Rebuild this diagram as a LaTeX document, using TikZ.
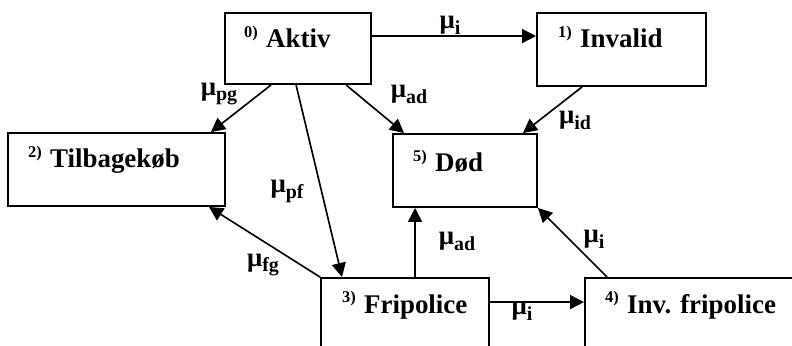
\documentclass[tikz,border=0pt]{standalone}
\usepackage{fontspec}
\setmainfont{Liberation Serif}
\usetikzlibrary{arrows.meta,fit,calc}

\newcommand{\rate}[1]{μ\raisebox{-0.22em}{\fontsize{17}{17}\selectfont\bfseries #1}}
\newcommand{\statename}[2]{\raisebox{9pt}{\fontsize{14}{14}\selectfont\bfseries #1)}\hspace{7pt}#2}

\tikzset{
  statebox/.style={draw, line width=1.6pt, inner sep=0pt, fit={#1}},
  statetext/.style={anchor=base west, inner sep=0pt, font=\bfseries\fontsize{23}{27}\selectfont},
  ratelbl/.style={inner sep=0pt, font=\bfseries\fontsize{23}{27}\selectfont},
  trans/.style={line width=1.4pt, -{Triangle[length=12pt,width=12pt]}}
}

\begin{document}
\begin{tikzpicture}[x=0.03cm, y=-0.03cm]
                \useasboundingbox (0,0) rectangle (792,346);
                \clip (0,0) rectangle (792,346);

                % states
                \node[statebox={(225,13) (371,84)}] (aktiv) {};
                \node[statebox={(537,13) (706,86)}] (invalid) {};
                \node[statebox={(8,133) (225,206)}] (tilbage) {};
                \node[statebox={(393,134) (537,207)}] (dod) {};
                \node[statebox={(321,278) (489,370)}] (fripol) {};
                \node[statebox={(585,278) (820,370)}] (invfri) {};

                \node[statetext] (aktivtxt) at (244,48) {\statename{0}{Aktiv}};
                \node[statetext] (invalidtxt) at (558,48) {\statename{1}{Invalid}};
                \node[statetext] (tilbagetxt) at (28,168) {\statename{2}{Tilbagekøb}};
                \node[statetext] (dodtxt) at (413,172) {\statename{5}{Død}};
                \node[statetext] (fripoltxt) at (342,313) {\statename{3}{Fripolice}};
                \node[statetext] (invfritxt) at (605,313) {\statename{4}{Inv. fripolice}};

                % transitions
                \draw[trans] ($(aktiv.north east)+(0,24)$) -- ($(invalid.north west)+(0,24)$);
                \draw[trans] ($(aktiv.south west)+(47,0)$) -- ($(tilbage.north east)+(-15,0)$);
                \draw[trans] ($(aktiv.south west)+(72,0)$) -- ($(fripol.north west)+(22,0)$);
                \draw[trans] ($(aktiv.south west)+(122,0)$) -- ($(dod.north west)+(12,0)$);
                \draw[trans] ($(invalid.south west)+(46,0)$) -- ($(dod.north east)+(-15,0)$);
                \draw[trans] (fripol.north west) -- ($(tilbage.south east)+(-17,0)$);
                \draw[trans] ($(fripol.north west)+(95,0)$) -- ($(dod.south west)+(23,0)$);
                \draw[trans] ($(fripol.north east)+(0,25)$) -- ($(invfri.north west)+(0,25)$);
                \draw[trans] ($(invfri.north west)+(23,0)$) -- (dod.south east);

                % intensities
                \node[ratelbl] (mui) at (450,25) {\rate{i}};
                \node[ratelbl] (mupg) at (219,94) {\rate{pg}};
                \node[ratelbl] (muad) at (409,94) {\rate{ad}};
                \node[ratelbl] (muid) at (575,120) {\rate{id}};
                \node[ratelbl] (mupf) at (287,191) {\rate{pf}};
                \node[ratelbl] (mufg) at (263,265) {\rate{fg}};
                \node[ratelbl] (muadf) at (457,241) {\rate{ad}};
                \node[ratelbl] (muiinv) at (594,239) {\rate{i}};
                \node[ratelbl] (muif) at (522,311) {\rate{i}};
\end{tikzpicture}
\end{document}
